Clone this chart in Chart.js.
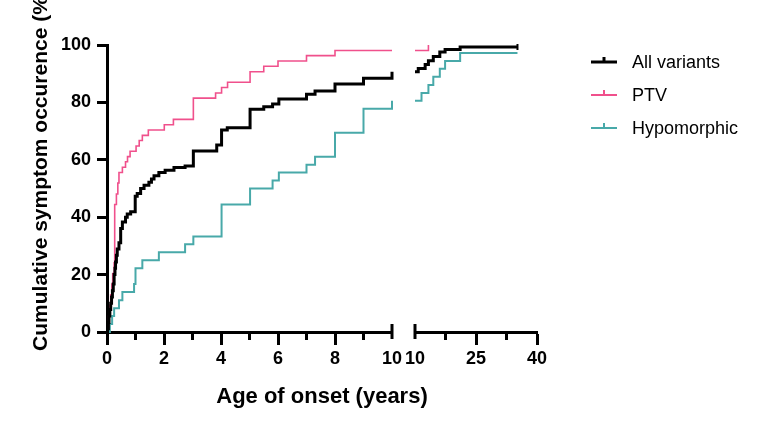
<!DOCTYPE html>
<html>
<head>
<meta charset="utf-8">
<script src="https://cdn.jsdelivr.net/npm/chart.js@4.4.0/dist/chart.umd.min.js"></script>
<style>
    body { margin: 0; background: #fff; }
    #wrap { width: 762px; height: 430px; }
</style>
</head>
<body>
<div id="wrap"><canvas id="kmChart" width="762" height="430"></canvas></div>
<script>
// Series names and colours
const seriesNames = ['All variants', 'PTV', 'Hypomorphic'];
const seriesColors = ['#000000', '#f0508c', '#48a9a9'];

// All variants, 0-10 years
const allTimes1 = [0, 0.02, 0.05, 0.07, 0.1, 0.13, 0.16, 0.19, 0.22, 0.25, 0.28, 0.3, 0.33, 0.36, 0.42, 0.48, 0.54, 0.65, 0.71, 0.83, 0.99, 1.06, 1.18, 1.3, 1.47, 1.56, 1.65, 1.82, 2.04, 2.35, 2.74, 3.03, 3.85, 4.02, 4.22, 5.02, 5.5, 5.81, 6.03, 7.0, 7.3, 8.0, 9.0, 10];
const allPct1 = [0, 1.1, 3.3, 5.6, 7.8, 10.0, 12.2, 14.4, 16.7, 20.0, 22.2, 24.4, 26.7, 28.9, 31.1, 36.1, 38.3, 40.0, 41.1, 41.9, 47.3, 48.3, 50.0, 51.1, 52.2, 53.3, 54.4, 55.6, 56.4, 57.3, 57.8, 63.1, 65.2, 70.4, 71.2, 77.6, 78.5, 79.4, 81.2, 82.8, 84.0, 86.4, 88.4, 90.7];
// All variants, 10-40 years
const allTimes2 = [10, 10.8, 12.5, 13.3, 14.5, 16.1, 17.4, 21.1, 35.2];
const allPct2 = [90.7, 91.8, 93.2, 94.5, 96.0, 97.6, 98.4, 99.3, 99.3];

// PTV
const ptvTimes1 = [0, 0.04, 0.06, 0.1, 0.13, 0.17, 0.2, 0.25, 0.27, 0.33, 0.38, 0.42, 0.54, 0.65, 0.72, 0.81, 1.02, 1.13, 1.24, 1.45, 2.01, 2.33, 3.03, 3.81, 4.02, 4.23, 5.02, 5.5, 6.0, 7.0, 8.0, 10];
const ptvPct1 = [0, 1.9, 5.6, 9.3, 13.0, 16.7, 20.4, 24.1, 44.4, 48.1, 51.9, 55.6, 57.4, 59.3, 61.1, 63.0, 64.8, 66.7, 68.5, 70.4, 72.2, 74.1, 81.5, 83.3, 85.2, 87.0, 90.7, 92.6, 94.4, 96.3, 98.1, 98.1];
const ptvTimes2 = [10, 13.3];
const ptvPct2 = [98.1, 100];

// Hypomorphic
const hypoTimes1 = [0, 0.1, 0.18, 0.25, 0.42, 0.54, 0.95, 1.0, 1.24, 1.82, 2.74, 3.03, 4.02, 5.02, 5.81, 6.03, 7.0, 7.3, 8.0, 9.0, 10];
const hypoPct1 = [0, 2.8, 5.6, 8.3, 11.1, 13.9, 16.7, 22.2, 25.0, 27.8, 30.6, 33.3, 44.4, 50.0, 52.8, 55.6, 58.3, 61.1, 69.4, 77.8, 80.6];
const hypoTimes2 = [10, 11.6, 13.3, 14.5, 16.1, 17.4, 21.1, 35.2];
const hypoPct2 = [80.6, 83.3, 86.1, 88.9, 91.7, 94.4, 97.2, 97.2];

// Tick labels
const xTicks1 = [0, 2, 4, 6, 8, 10];
const xMinor1 = [1, 3, 5, 7, 9];
const xTicks2 = [10, 25, 40];
const xMinor2 = [17.5, 32.5];
const yTicks = [0, 20, 40, 60, 80, 100];

const xTitle = 'Age of onset (years)';
const yTitle = 'Cumulative symptom occurence (%)';

const FONT = '"Liberation Sans", Arial, Helvetica, sans-serif';

function points(times, pct) {
    return times.map((t, i) => ({ x: t, y: pct[i] }));
}

function stepLine(label, color, width, xAxisID, data, censorLast) {
    return {
        label: label,
        data: data,
        xAxisID: xAxisID,
        yAxisID: 'y',
        borderColor: color,
        backgroundColor: color,
        borderWidth: width,
        stepped: true,
        fill: false,
        borderCapStyle: 'butt',
        borderJoinStyle: 'miter',
        pointStyle: 'line',
        rotation: 90,
        pointBorderColor: color,
        pointBorderWidth: 2,
        pointRadius: ctx => (censorLast && ctx.dataIndex === data.length - 1) ? 3 : 0,
        clip: 4
    };
}

const hideBreakTick = c => (c.tick && c.tick.value === 10) ? 'rgba(0,0,0,0)' : '#000';

// Axis break caps, minor ticks, titles and legend
const decorations = {
    id: 'decorations',
    afterDraw(chart) {
        const ctx = chart.ctx;
        const area = chart.chartArea;
        const x1 = chart.scales.x1;
        const x2 = chart.scales.x2;
        const axisY = area.bottom;

        function seg(ax, ay, bx, by) {
            ctx.beginPath();
            ctx.moveTo(ax, ay);
            ctx.lineTo(bx, by);
            ctx.stroke();
        }

        ctx.save();
        ctx.strokeStyle = '#000';
        ctx.lineWidth = 3;
        ctx.lineCap = 'butt';
        xMinor1.forEach(v => {
            const px = x1.getPixelForValue(v);
            seg(px, axisY, px, axisY + 8);
        });
        xMinor2.forEach(v => {
            const px = x2.getPixelForValue(v);
            seg(px, axisY, px, axisY + 8);
        });
        [x1.getPixelForValue(10), x2.getPixelForValue(10)].forEach(px => {
            seg(px, axisY - 8, px, axisY + 7);
        });

        // axis titles
        ctx.fillStyle = '#000';
        ctx.font = 'bold 22px ' + FONT;
        ctx.textAlign = 'center';
        ctx.textBaseline = 'alphabetic';
        ctx.fillText(xTitle, (area.left + area.right) / 2, 403);
        ctx.save();
        ctx.font = 'bold 21px ' + FONT;
        ctx.translate(47, 170);
        ctx.rotate(-Math.PI / 2);
        ctx.fillText(yTitle, 0, 0);
        ctx.restore();

        // legend
        const widths = [3, 2, 2];
        ctx.font = '18px ' + FONT;
        ctx.textAlign = 'left';
        seriesNames.forEach((name, i) => {
            const base = 68 + i * 33;
            const my = base - 6;
            ctx.strokeStyle = seriesColors[i];
            ctx.lineWidth = widths[i];
            seg(591, my, 617, my);
            seg(604, my, 604, my - 5);
            ctx.fillStyle = '#000';
            ctx.fillText(name, 632, base);
        });
        ctx.restore();
    }
};

new Chart(document.getElementById('kmChart'), {
    type: 'line',
    data: {
        datasets: [
            stepLine(seriesNames[0], seriesColors[0], 3, 'x1', points(allTimes1, allPct1), false),
            stepLine(seriesNames[0], seriesColors[0], 3, 'x2', points(allTimes2, allPct2), true),
            stepLine(seriesNames[1], seriesColors[1], 1.6, 'x1', points(ptvTimes1, ptvPct1), false),
            stepLine(seriesNames[1], seriesColors[1], 1.6, 'x2', points(ptvTimes2, ptvPct2), false),
            stepLine(seriesNames[2], seriesColors[2], 2, 'x1', points(hypoTimes1, hypoPct1), false),
            stepLine(seriesNames[2], seriesColors[2], 2, 'x2', points(hypoTimes2, hypoPct2), false)
        ]
    },
    options: {
        responsive: false,
        animation: false,
        layout: { padding: { top: 45, right: 225, bottom: 0, left: 0 } },
        plugins: {
            legend: { display: false },
            tooltip: { enabled: false }
        },
        scales: {
            x1: {
                type: 'linear', axis: 'x', position: 'bottom',
                stack: 'x', stackWeight: 285, weight: 0,
                min: 0, max: 10,
                afterBuildTicks: s => { s.ticks = xTicks1.map(v => ({ value: v })); },
                afterFit: s => { s.height = 98; },
                grid: { drawOnChartArea: false, tickLength: 13, tickWidth: 3, tickColor: hideBreakTick },
                border: { display: true, color: '#000', width: 3 },
                ticks: { color: '#000', padding: 3, maxRotation: 0, font: { family: FONT, size: 18, weight: 'bold' } }
            },
            xgap: {
                type: 'linear', axis: 'x', position: 'bottom',
                stack: 'x', stackWeight: 23, weight: 1,
                display: false
            },
            x2: {
                type: 'linear', axis: 'x', position: 'bottom',
                stack: 'x', stackWeight: 122, weight: 2,
                min: 10, max: 40,
                afterBuildTicks: s => { s.ticks = xTicks2.map(v => ({ value: v })); },
                afterFit: s => { s.height = 98; },
                grid: { drawOnChartArea: false, tickLength: 13, tickWidth: 3, tickColor: hideBreakTick },
                border: { display: true, color: '#000', width: 3 },
                ticks: { color: '#000', padding: 3, maxRotation: 0, font: { family: FONT, size: 18, weight: 'bold' } }
            },
            y: {
                type: 'linear', position: 'left',
                min: 0, max: 100,
                afterBuildTicks: s => { s.ticks = yTicks.map(v => ({ value: v })); },
                afterFit: s => { s.width = 107; },
                grid: { drawOnChartArea: false, tickLength: 10, tickWidth: 3, tickColor: '#000' },
                border: { display: true, color: '#000', width: 3 },
                ticks: { color: '#000', padding: 6, font: { family: FONT, size: 18, weight: 'bold' } }
            }
        }
    },
    plugins: [decorations]
});
</script>
</body>
</html>
